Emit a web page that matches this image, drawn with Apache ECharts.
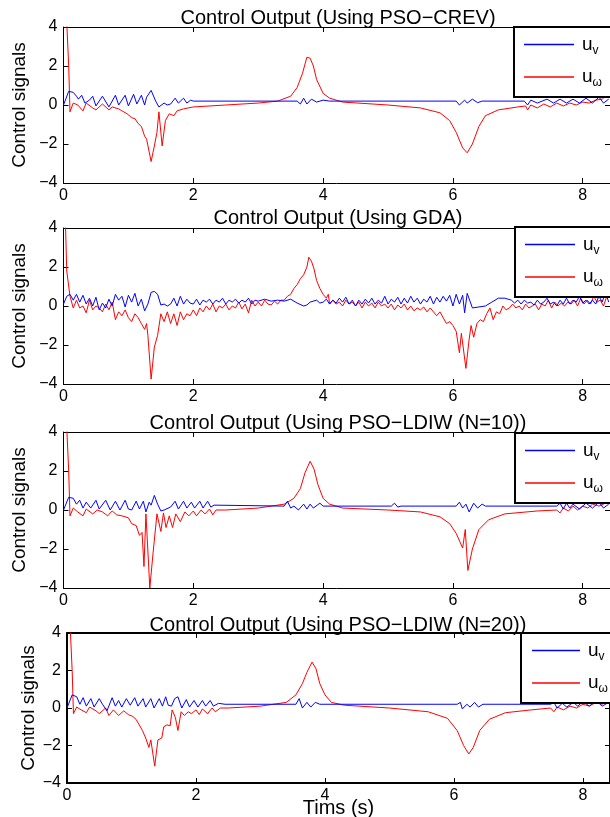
<!DOCTYPE html>
<html><head><meta charset="utf-8">
<script src="https://cdn.jsdelivr.net/npm/echarts@6/dist/echarts.min.js"></script>
<style>html,body{margin:0;padding:0;background:#fff}#c{width:610px;height:817px}</style>
</head><body><div id="c"></div>
<script>
// ---- data: [time (s), value] pairs ----
var titles = ['Control Output (Using PSO\u2212CREV)','Control Output (Using GDA)','Control Output (Using PSO\u2212LDIW (N=10))','Control Output (Using PSO\u2212LDIW (N=20))'];
var yTicks = [-4,-2,0,2,4];
var xTicks = [0,2,4,6,8];

var p1v = [[0,0.0],[0.08,0.7],[0.15,0.65],[0.2,0.45],[0.23,0.3],[0.28,0.5],[0.33,0.1],[0.4,0.25],[0.45,0.45],[0.5,-0.05],[0.6,0.45],[0.7,-0.1],[0.8,0.5],[0.85,0.0],[0.95,0.5],[1.0,-0.05],[1.08,0.55],[1.13,0.05],[1.2,0.5],[1.25,0.0],[1.28,0.4],[1.35,0.75],[1.42,0.2],[1.47,-0.1],[1.55,0.1],[1.6,0.0],[1.65,0.05],[1.72,0.35],[1.77,0.1],[1.85,0.35],[1.9,0.1],[1.96,0.25],[2.0,0.2],[3.6,0.2],[3.65,0.05],[3.7,0.35],[3.75,0.05],[3.82,0.3],[3.9,0.15],[4.0,0.25],[4.1,0.2],[6.05,0.2],[6.1,0.0],[6.18,0.25],[6.22,0.1],[6.3,0.3],[6.38,0.12],[6.45,0.2],[7.1,0.2],[7.15,0.0],[7.2,0.25],[7.3,0.1],[7.45,0.3],[7.55,0.1],[7.65,0.3],[7.75,0.1],[7.85,0.3],[7.95,0.1],[8.05,0.35],[8.15,0.1],[8.25,0.4],[8.32,0.1],[8.4,0.3]];
var p1w = [[0,8],[0.08,2.0],[0.1,-0.35],[0.15,0.1],[0.22,0.0],[0.3,-0.3],[0.35,0.1],[0.45,-0.15],[0.5,-0.25],[0.6,0.05],[0.7,-0.25],[0.75,-0.1],[0.85,-0.2],[0.9,-0.3],[0.98,-0.45],[1.05,-0.65],[1.1,-0.7],[1.15,-0.95],[1.2,-1.1],[1.25,-1.6],[1.28,-1.75],[1.35,-2.9],[1.4,-2.1],[1.44,-1.4],[1.47,-0.35],[1.52,-2.1],[1.57,-0.8],[1.63,-0.45],[1.7,-0.55],[1.75,-0.3],[1.85,-0.2],[2.0,-0.1],[2.5,0.0],[3.0,0.1],[3.3,0.2],[3.5,0.45],[3.6,0.9],[3.68,1.6],[3.75,2.45],[3.8,2.4],[3.85,2.0],[3.9,1.3],[4.0,0.6],[4.1,0.35],[4.3,0.15],[5.0,0.0],[5.5,-0.15],[5.8,-0.4],[5.95,-0.8],[6.05,-1.4],[6.15,-2.2],[6.22,-2.45],[6.3,-2.0],[6.4,-1.1],[6.5,-0.55],[6.7,-0.25],[7.0,-0.1],[7.12,-0.05],[7.15,-0.25],[7.2,0.0],[7.3,-0.15],[7.4,0.05],[7.5,-0.1],[7.6,0.1],[7.7,-0.05],[7.8,0.1],[7.9,0.0],[8.0,0.15],[8.1,0.1],[8.2,0.25],[8.3,0.3],[8.4,0.6]];

var p2v = [[0,0.1],[0.05,0.5],[0.1,0.6],[0.15,0.3],[0.2,0.6],[0.25,0.2],[0.3,0.55],[0.35,0.1],[0.4,0.4],[0.45,0.0],[0.5,0.45],[0.55,-0.2],[0.6,0.15],[0.65,-0.1],[0.7,0.35],[0.75,0.0],[0.8,0.6],[0.85,0.3],[0.9,0.5],[0.95,-0.05],[1.0,0.55],[1.05,0.2],[1.1,0.65],[1.15,0.0],[1.2,0.35],[1.25,-0.25],[1.3,0.1],[1.35,0.7],[1.4,0.75],[1.45,0.6],[1.5,0.05],[1.55,0.1],[1.6,0.0],[1.65,0.1],[1.7,0.4],[1.75,0.0],[1.8,0.5],[1.85,0.1],[1.9,0.35],[1.95,0.15],[2.0,0.1],[2.05,0.35],[2.1,0.05],[2.15,0.3],[2.2,0.2],[2.25,0.35],[2.3,0.1],[2.35,0.3],[2.4,0.2],[2.45,0.4],[2.5,0.1],[2.55,0.3],[2.6,0.2],[2.65,0.35],[2.7,0.15],[2.75,0.3],[2.8,0.2],[2.85,0.4],[2.9,0.1],[2.95,0.3],[3.0,0.25],[3.1,0.35],[3.2,0.25],[3.3,0.3],[3.4,0.25],[3.5,0.35],[3.6,0.15],[3.7,0.0],[3.75,0.05],[3.8,0.2],[3.9,0.3],[3.95,0.15],[4.0,0.2],[4.05,0.35],[4.1,0.1],[4.15,0.3],[4.2,0.15],[4.25,0.4],[4.3,0.2],[4.35,0.45],[4.4,0.1],[4.45,0.3],[4.5,0.0],[4.55,0.3],[4.6,0.1],[4.65,0.35],[4.7,0.15],[4.75,0.4],[4.8,0.1],[4.85,0.3],[4.9,0.15],[4.95,0.5],[5.0,0.1],[5.05,0.35],[5.1,0.2],[5.15,0.45],[5.2,0.1],[5.25,0.4],[5.3,0.15],[5.35,0.5],[5.4,0.2],[5.45,0.4],[5.5,0.1],[5.55,0.35],[5.6,0.2],[5.65,0.5],[5.7,0.1],[5.75,0.45],[5.8,0.2],[5.85,0.5],[5.9,0.25],[5.95,0.55],[6.0,0.0],[6.05,0.6],[6.1,0.1],[6.15,0.55],[6.18,-0.35],[6.22,0.65],[6.25,0.6],[6.3,-0.1],[6.4,-0.05],[6.5,0.0],[6.6,0.2],[6.7,0.4],[6.8,0.4],[6.9,0.3],[6.95,0.15],[7.0,0.3],[7.05,0.1],[7.1,0.3],[7.15,0.15],[7.2,0.2],[7.25,0.05],[7.3,0.3],[7.35,0.1],[7.4,0.2],[7.45,0.4],[7.5,0.1],[7.55,0.2],[7.6,0.0],[7.65,0.3],[7.7,0.1],[7.75,0.4],[7.8,0.1],[7.85,0.3],[7.9,0.2],[7.95,0.5],[8.0,0.15],[8.05,0.3],[8.1,0.1],[8.15,0.3],[8.2,0.1],[8.25,0.5],[8.3,0.2],[8.35,0.7],[8.4,0.2]];
var p2w = [[0,8],[0.05,1.8],[0.1,0.5],[0.15,-0.1],[0.2,0.3],[0.25,-0.1],[0.3,0.0],[0.35,-0.35],[0.4,0.3],[0.45,-0.2],[0.5,0.0],[0.55,-0.1],[0.6,-0.3],[0.65,0.1],[0.7,-0.2],[0.75,0.2],[0.8,-0.7],[0.85,-0.3],[0.9,-0.5],[0.95,-0.2],[1.0,-0.6],[1.05,-0.8],[1.1,-0.4],[1.15,-0.6],[1.2,-0.9],[1.25,-1.2],[1.28,-0.9],[1.3,-1.5],[1.35,-3.75],[1.4,-2.1],[1.45,-1.5],[1.5,-0.4],[1.55,-0.8],[1.6,-0.3],[1.65,-0.9],[1.7,-0.4],[1.75,-1.0],[1.8,-0.3],[1.85,-0.7],[1.9,-0.4],[1.95,-0.5],[2.0,-0.2],[2.05,-0.5],[2.1,-0.1],[2.15,-0.3],[2.2,0.0],[2.25,-0.2],[2.3,0.1],[2.35,-0.3],[2.4,0.0],[2.45,-0.1],[2.5,0.1],[2.55,-0.2],[2.6,0.0],[2.65,-0.1],[2.7,0.2],[2.75,-0.15],[2.8,0.1],[2.85,-0.35],[2.9,0.3],[2.95,0.0],[3.0,0.2],[3.05,0.0],[3.1,0.3],[3.15,0.1],[3.2,0.05],[3.25,0.25],[3.3,0.1],[3.35,0.3],[3.4,0.3],[3.45,0.5],[3.5,0.6],[3.55,0.9],[3.6,1.1],[3.65,1.4],[3.7,1.6],[3.75,2.0],[3.78,2.5],[3.82,2.3],[3.86,1.9],[3.9,1.3],[3.95,0.9],[4.0,0.6],[4.05,0.4],[4.08,0.6],[4.1,0.1],[4.15,0.3],[4.2,0.1],[4.25,0.2],[4.3,0.0],[4.35,0.3],[4.4,0.1],[4.45,0.2],[4.5,0.0],[4.55,0.2],[4.6,-0.1],[4.65,0.2],[4.7,0.0],[4.75,0.15],[4.8,-0.1],[4.85,0.2],[4.9,0.0],[4.95,0.1],[5.0,-0.1],[5.05,0.1],[5.1,-0.2],[5.15,0.05],[5.2,-0.1],[5.25,0.1],[5.3,-0.2],[5.35,0.0],[5.4,-0.25],[5.45,-0.1],[5.5,-0.2],[5.55,-0.05],[5.6,-0.3],[5.65,-0.1],[5.7,-0.3],[5.75,-0.5],[5.8,-0.3],[5.85,-0.6],[5.9,-0.9],[5.95,-0.8],[6.0,-1.0],[6.05,-1.3],[6.1,-2.4],[6.13,-1.4],[6.2,-3.2],[6.25,-1.7],[6.28,-1.0],[6.32,-1.6],[6.37,-0.9],[6.42,-0.7],[6.47,-0.8],[6.52,-0.4],[6.57,-0.1],[6.62,-0.7],[6.67,-0.3],[6.72,-0.4],[6.77,0.0],[6.82,-0.2],[6.87,-0.1],[6.92,0.1],[6.97,-0.1],[7.02,0.0],[7.07,-0.2],[7.12,0.1],[7.17,-0.1],[7.22,0.0],[7.27,0.1],[7.32,-0.2],[7.37,0.1],[7.42,0.0],[7.47,0.3],[7.52,-0.1],[7.57,0.2],[7.62,0.0],[7.67,0.15],[7.72,0.0],[7.77,0.2],[7.82,0.1],[7.87,0.3],[7.92,0.0],[7.97,0.4],[8.02,0.1],[8.07,0.3],[8.12,0.1],[8.17,0.5],[8.22,0.2],[8.27,0.3],[8.32,0.0],[8.37,0.5],[8.4,0.7]];

var p3v = [[0,0.0],[0.08,0.65],[0.15,0.6],[0.2,0.3],[0.25,0.5],[0.3,0.1],[0.35,0.4],[0.42,0.1],[0.5,0.5],[0.55,0.05],[0.65,0.5],[0.72,0.0],[0.8,0.45],[0.87,0.0],[0.95,0.5],[1.0,0.05],[1.05,0.0],[1.12,0.45],[1.17,0.05],[1.23,0.45],[1.27,-0.1],[1.32,0.4],[1.35,0.25],[1.4,0.75],[1.45,0.3],[1.5,-0.05],[1.55,0.0],[1.65,0.15],[1.72,0.45],[1.77,0.05],[1.85,0.45],[1.9,0.1],[1.97,0.4],[2.02,0.1],[2.1,0.45],[2.15,0.1],[2.22,0.45],[2.27,0.15],[2.32,0.25],[2.35,0.2],[3.4,0.2],[3.45,0.45],[3.5,0.1],[3.55,0.2],[3.62,0.0],[3.7,0.3],[3.75,0.05],[3.8,0.3],[3.85,0.1],[3.95,0.35],[4.0,0.2],[5.05,0.2],[5.1,0.35],[5.15,0.15],[5.2,0.2],[6.05,0.2],[6.1,0.4],[6.15,0.1],[6.2,0.3],[6.25,-0.1],[6.32,0.35],[6.38,0.1],[6.45,0.3],[6.5,0.2],[7.6,0.2],[7.65,0.35],[7.7,0.05],[7.75,0.35],[7.8,0.1],[7.85,0.3],[7.95,0.05],[8.05,0.35],[8.15,0.1],[8.25,0.4],[8.32,0.1],[8.4,0.3]];
var p3w = [[0,8],[0.08,2.0],[0.1,-0.3],[0.15,0.1],[0.22,-0.1],[0.3,-0.3],[0.35,0.05],[0.45,-0.2],[0.52,0.0],[0.6,-0.1],[0.68,-0.3],[0.75,-0.05],[0.82,-0.25],[0.9,-0.3],[1.0,-0.4],[1.05,-0.7],[1.12,-0.8],[1.17,-1.3],[1.21,-1.15],[1.24,-2.9],[1.27,-0.2],[1.33,-4.0],[1.38,-2.2],[1.44,-0.2],[1.5,-1.1],[1.54,-0.15],[1.58,-0.9],[1.63,-0.3],[1.68,-0.9],[1.73,-0.2],[1.8,-0.6],[1.87,-0.1],[1.93,-0.3],[2.0,-0.05],[2.05,-0.3],[2.12,0.0],[2.18,-0.2],[2.25,0.05],[2.3,-0.25],[2.35,0.0],[2.5,0.0],[3.0,0.1],[3.4,0.3],[3.55,0.6],[3.65,1.1],[3.72,1.9],[3.8,2.5],[3.86,2.1],[3.92,1.3],[4.0,0.6],[4.1,0.3],[4.3,0.1],[5.0,0.0],[5.5,-0.1],[5.8,-0.35],[5.95,-0.7],[6.05,-1.2],[6.15,-1.95],[6.19,-1.0],[6.23,-3.1],[6.3,-2.0],[6.4,-1.0],[6.55,-0.5],[6.8,-0.2],[7.3,-0.05],[7.6,0.0],[7.65,-0.15],[7.7,0.1],[7.78,-0.05],[7.85,0.2],[7.92,0.0],[8.0,0.2],[8.08,0.1],[8.15,0.3],[8.25,0.2],[8.32,0.3],[8.4,0.5]];

var p4v = [[0,0.0],[0.08,0.7],[0.15,0.6],[0.2,0.2],[0.25,0.55],[0.3,0.1],[0.37,0.5],[0.42,0.05],[0.5,0.5],[0.55,0.2],[0.62,-0.15],[0.7,0.55],[0.75,0.1],[0.8,0.4],[0.85,0.05],[0.92,0.5],[0.98,0.15],[1.05,0.55],[1.1,0.1],[1.18,0.5],[1.22,0.05],[1.3,0.5],[1.35,0.0],[1.43,0.5],[1.48,0.1],[1.53,0.6],[1.57,0.15],[1.62,0.1],[1.67,0.5],[1.72,0.6],[1.78,0.0],[1.85,0.45],[1.9,0.05],[1.97,0.4],[2.03,0.05],[2.1,0.4],[2.15,0.1],[2.22,0.4],[2.27,0.1],[2.35,0.25],[2.45,0.2],[3.55,0.2],[3.6,0.5],[3.65,0.0],[3.72,0.3],[3.78,0.05],[3.85,0.3],[3.92,0.2],[6.05,0.2],[6.1,0.3],[6.13,-0.05],[6.2,0.2],[6.25,0.05],[6.32,0.3],[6.38,0.05],[6.45,0.2],[7.5,0.2],[7.55,0.3],[7.6,0.0],[7.68,0.25],[7.75,0.05],[7.85,0.3],[7.92,0.1],[8.0,0.35],[8.1,0.1],[8.2,0.4],[8.3,0.1],[8.4,0.3]];
var p4w = [[0,8],[0.08,2],[0.1,-0.3],[0.15,0.05],[0.22,-0.1],[0.3,-0.25],[0.35,0.05],[0.45,-0.15],[0.5,-0.3],[0.6,0.0],[0.65,-0.4],[0.72,-0.1],[0.8,-0.4],[0.88,-0.15],[0.95,-0.35],[1.02,-0.45],[1.07,-0.6],[1.12,-0.9],[1.17,-1.2],[1.22,-1.6],[1.27,-2.1],[1.3,-1.7],[1.36,-3.1],[1.41,-1.7],[1.47,-1.6],[1.5,-1.0],[1.55,-0.9],[1.6,-0.95],[1.63,-0.1],[1.68,-0.5],[1.72,-1.2],[1.77,-0.2],[1.82,-0.4],[1.88,-0.2],[1.93,-0.3],[2.0,-0.1],[2.05,-0.35],[2.1,-0.05],[2.18,-0.3],[2.25,0.0],[2.3,-0.2],[2.38,0.0],[2.5,0.0],[3.0,0.1],[3.4,0.3],[3.55,0.7],[3.65,1.3],[3.72,1.9],[3.8,2.45],[3.86,2.1],[3.92,1.3],[4.0,0.7],[4.1,0.3],[4.3,0.15],[5.0,0.0],[5.6,-0.2],[5.9,-0.55],[6.05,-1.2],[6.15,-2.0],[6.23,-2.45],[6.3,-2.1],[6.4,-1.2],[6.55,-0.6],[6.8,-0.25],[7.2,-0.1],[7.5,0.0],[7.55,-0.2],[7.6,0.05],[7.7,-0.1],[7.8,0.1],[7.9,0.0],[8.0,0.2],[8.1,0.1],[8.2,0.3],[8.3,0.2],[8.4,0.45]];

var uvData = [p1v,p2v,p3v,p4v];
var uwData = [p1w,p2w,p3w,p4w];

// ---- layout ----
var FONT = '"Liberation Sans", Arial, Helvetica, sans-serif';
var panels = [
  {left:63.5, top:27, height:156, titleTop:3, legLeft:514, legTop:27, legPadL:10, legW:50, axW:1, yGap:34},
  {left:63.5, top:228, height:156, titleTop:203, legLeft:515, legTop:227, legPadL:10, legW:50, axW:1, yGap:34},
  {left:63.5, top:432, height:156, titleTop:408, legLeft:515, legTop:433, legPadL:10, legW:50, axW:1, yGap:34},
  {left:67, top:633, height:150, titleTop:610, legLeft:521, legTop:633, legPadL:11, legW:48, axW:2, yGap:29}
];
var XMAX = 8.42;

var grids=[], xAxes=[], yAxes=[], series=[], legends=[], tit=[];
function minus(v){ return String(v).replace('-', '\u2212'); }
panels.forEach(function(p,i){
  grids.push({left:p.left, top:p.top, right:0, height:p.height, containLabel:false, outerBoundsMode:'none'});
  var lineStyle = {color:'#000', width:p.axW};
  xAxes.push({type:'value', gridIndex:i, min:0, max:XMAX, interval:2, position:'bottom',
    axisLine:{show:true, onZero:false, lineStyle:lineStyle},
    axisTick:{show:true, inside:true, length:5, lineStyle:{color:'#000', width:1}},
    axisLabel:{color:'#000', fontSize:16, fontFamily:FONT, margin:5, showMaxLabel:false,
      formatter:function(v){ return xTicks.indexOf(v)>=0 ? String(v) : ''; }},
    splitLine:{show:false},
    name: i===3 ? 'Tims (s)' : '', nameLocation:'middle', nameGap:15, nameMoveOverlap:false,
    nameTextStyle:{color:'#000', fontSize:20, fontFamily:FONT}
  });
  xAxes.push({type:'value', gridIndex:i, min:0, max:XMAX, interval:2, position:'top',
    axisLine:{show:true, onZero:false, lineStyle:lineStyle},
    axisTick:{show:true, inside:true, length:5, lineStyle:{color:'#000', width:1}},
    axisLabel:{show:false}, splitLine:{show:false}});
  yAxes.push({type:'value', gridIndex:i, min:-4, max:4, interval:2, position:'left',
    axisLine:{show:true, onZero:false, lineStyle:lineStyle},
    axisTick:{show:true, inside:true, length:5, lineStyle:{color:'#000', width:1}},
    axisLabel:{color:'#000', fontSize:16, fontFamily:FONT, margin:6,
      formatter:function(v){ return yTicks.indexOf(v)>=0 ? minus(v) : ''; }},
    splitLine:{show:false},
    name:'Control signals', nameLocation:'middle', nameGap:p.yGap, nameRotate:90, nameMoveOverlap:false,
    nameTextStyle:{color:'#000', fontSize:19, fontFamily:FONT}
  });
  yAxes.push({type:'value', gridIndex:i, min:-4, max:4, interval:2, position:'right',
    axisLine:{show:true, onZero:false, lineStyle:lineStyle},
    axisTick:{show:true, inside:true, length:5, lineStyle:{color:'#000', width:1}},
    axisLabel:{show:false}, splitLine:{show:false}});
  var nv = 'uv'+i, nw = 'uw'+i;
  series.push({name:nv, type:'line', xAxisIndex:2*i, yAxisIndex:2*i, data:uvData[i],
    symbol:'none', showSymbol:false, lineStyle:{color:'#0000ff', width:1}, itemStyle:{color:'#0000ff'}, clip:true, z:3, animation:false});
  series.push({name:nw, type:'line', xAxisIndex:2*i, yAxisIndex:2*i, data:uwData[i],
    symbol:'none', showSymbol:false, lineStyle:{color:'#ff0000', width:1}, itemStyle:{color:'#ff0000'}, clip:true, z:2, animation:false});
  legends.push({data:[{name:nv, icon:'rect'},{name:nw, icon:'rect'}], orient:'vertical', left:p.legLeft, top:p.legTop,
    backgroundColor:'#fff', borderColor:'#000', borderWidth:2, borderRadius:0,
    padding:[8,60,8,p.legPadL], itemGap:11, itemWidth:p.legW, itemHeight:1.3, selectedMode:false,
    formatter:function(n){ return n.indexOf('uv')===0 ? '{b|u}{s|v}' : '{b|u}{s|\u03c9}'; },
    textStyle:{color:'#000', fontFamily:FONT, padding:[0,0,0,3],
      rich:{b:{fontSize:19, fontFamily:FONT, lineHeight:24, color:'#000'},
            s:{fontSize:12, fontFamily:FONT, lineHeight:12, verticalAlign:'bottom', color:'#000'}}}
  });
  tit.push({text:titles[i], left:333, top:p.titleTop, textAlign:'center',
    textStyle:{color:'#000', fontSize:20, fontWeight:'normal', fontFamily:FONT}});
});

var chart = echarts.init(document.getElementById('c'), null, {renderer:'canvas'});
chart.setOption({animation:false, backgroundColor:'#fff', title:tit, grid:grids, xAxis:xAxes, yAxis:yAxes, legend:legends, series:series});
</script></body></html>
